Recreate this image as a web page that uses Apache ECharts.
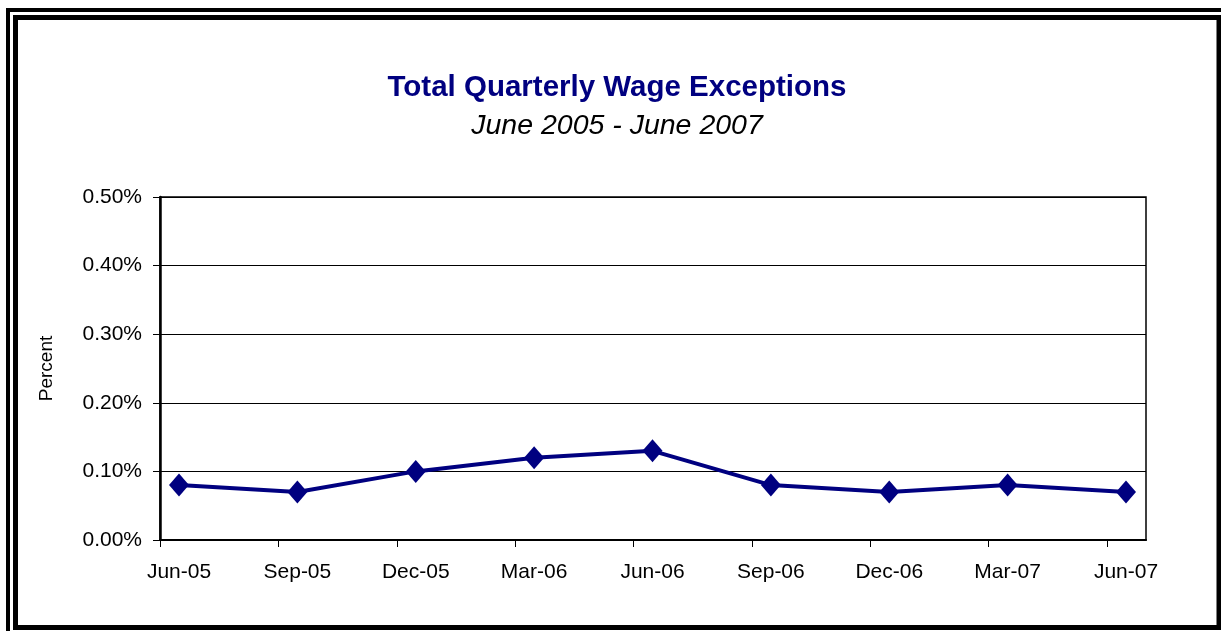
<!DOCTYPE html>
<html>
<head>
<meta charset="utf-8">
<style>
  html, body { margin: 0; padding: 0; background: #fff; }
  #chart { width: 1221px; height: 631px; }
</style>
<script src="https://cdn.jsdelivr.net/npm/echarts@6/dist/echarts.min.js"></script>
</head>
<body>
<div id="chart"></div>
<script>
const titleText = 'Total Quarterly Wage Exceptions';
const subtitleText = 'June 2005 - June 2007';
const yAxisName = 'Percent';
const categories = ['Jun-05', 'Sep-05', 'Dec-05', 'Mar-06', 'Jun-06', 'Sep-06', 'Dec-06', 'Mar-07', 'Jun-07'];
const values = [0.08, 0.07, 0.10, 0.12, 0.13, 0.08, 0.07, 0.08, 0.07];
const yTicks = [0, 0.1, 0.2, 0.3, 0.4, 0.5];

const FONT = '"Liberation Sans", Arial, sans-serif';
const NAVY = '#000080';

const chart = echarts.init(document.getElementById('chart'), null, { renderer: 'canvas' });

const seriesData = values.map((v, i) => [i, v]);
const tickPositions = categories.map((c, i) => i - 0.16);
const labelPositions = categories.map((c, i) => i);

chart.setOption({
  animation: false,
  backgroundColor: '#ffffff',
  grid: {
    left: 160, top: 197, right: 75, bottom: 91,
    show: true, borderColor: '#000', borderWidth: 1.5, backgroundColor: 'transparent'
  },
  graphic: [
    { type: 'rect', shape: { x: 8, y: 10, width: 1300, height: 700 },
      style: { fill: 'none', stroke: '#000', lineWidth: 4 }, silent: true },
    { type: 'rect', shape: { x: 15.5, y: 17.5, width: 1203.5, height: 610 },
      style: { fill: 'none', stroke: '#000', lineWidth: 5 }, silent: true },
    { type: 'text', x: 617, y: 88,
      style: { text: titleText, font: 'bold 29.5px ' + FONT, fill: NAVY,
               textAlign: 'center', textVerticalAlign: 'middle' } },
    { type: 'text', x: 617, y: 126,
      style: { text: subtitleText, font: 'italic 28.5px ' + FONT, fill: '#000',
               textAlign: 'center', textVerticalAlign: 'middle' } }
  ],
  xAxis: {
    type: 'value',
    min: -0.1605,
    max: 8.169,
    axisLine: { show: true, onZero: false, lineStyle: { color: '#000', width: 2 } },
    axisTick: { show: true, length: 7, inside: false, customValues: tickPositions,
                lineStyle: { color: '#000', width: 1 } },
    axisLabel: {
      customValues: labelPositions,
      formatter: (v) => categories[Math.round(v)] || '',
      fontFamily: FONT, fontSize: 21, color: '#000', margin: 22
    },
    splitLine: { show: false }
  },
  yAxis: {
    type: 'value',
    min: 0, max: 0.5, interval: 0.1,
    name: yAxisName,
    nameLocation: 'middle',
    nameRotate: 90,
    nameGap: 104,
    nameTextStyle: { fontFamily: FONT, fontSize: 19, color: '#000' },
    axisLine: { show: true, onZero: false, lineStyle: { color: '#000', width: 2.5 } },
    axisTick: { show: true, length: 7, inside: false, lineStyle: { color: '#000', width: 1 } },
    axisLabel: {
      formatter: (v) => v.toFixed(2) + '%',
      fontFamily: FONT, fontSize: 21, color: '#000', margin: 18
    },
    splitLine: { show: true, lineStyle: { color: '#000', width: 1 } }
  },
  series: [{
    type: 'line',
    data: seriesData,
    lineStyle: { color: NAVY, width: 4 },
    itemStyle: { color: NAVY },
    symbol: 'diamond',
    symbolSize: [20, 23],
    showSymbol: true,
    z: 5
  }]
});
</script>
</body>
</html>
